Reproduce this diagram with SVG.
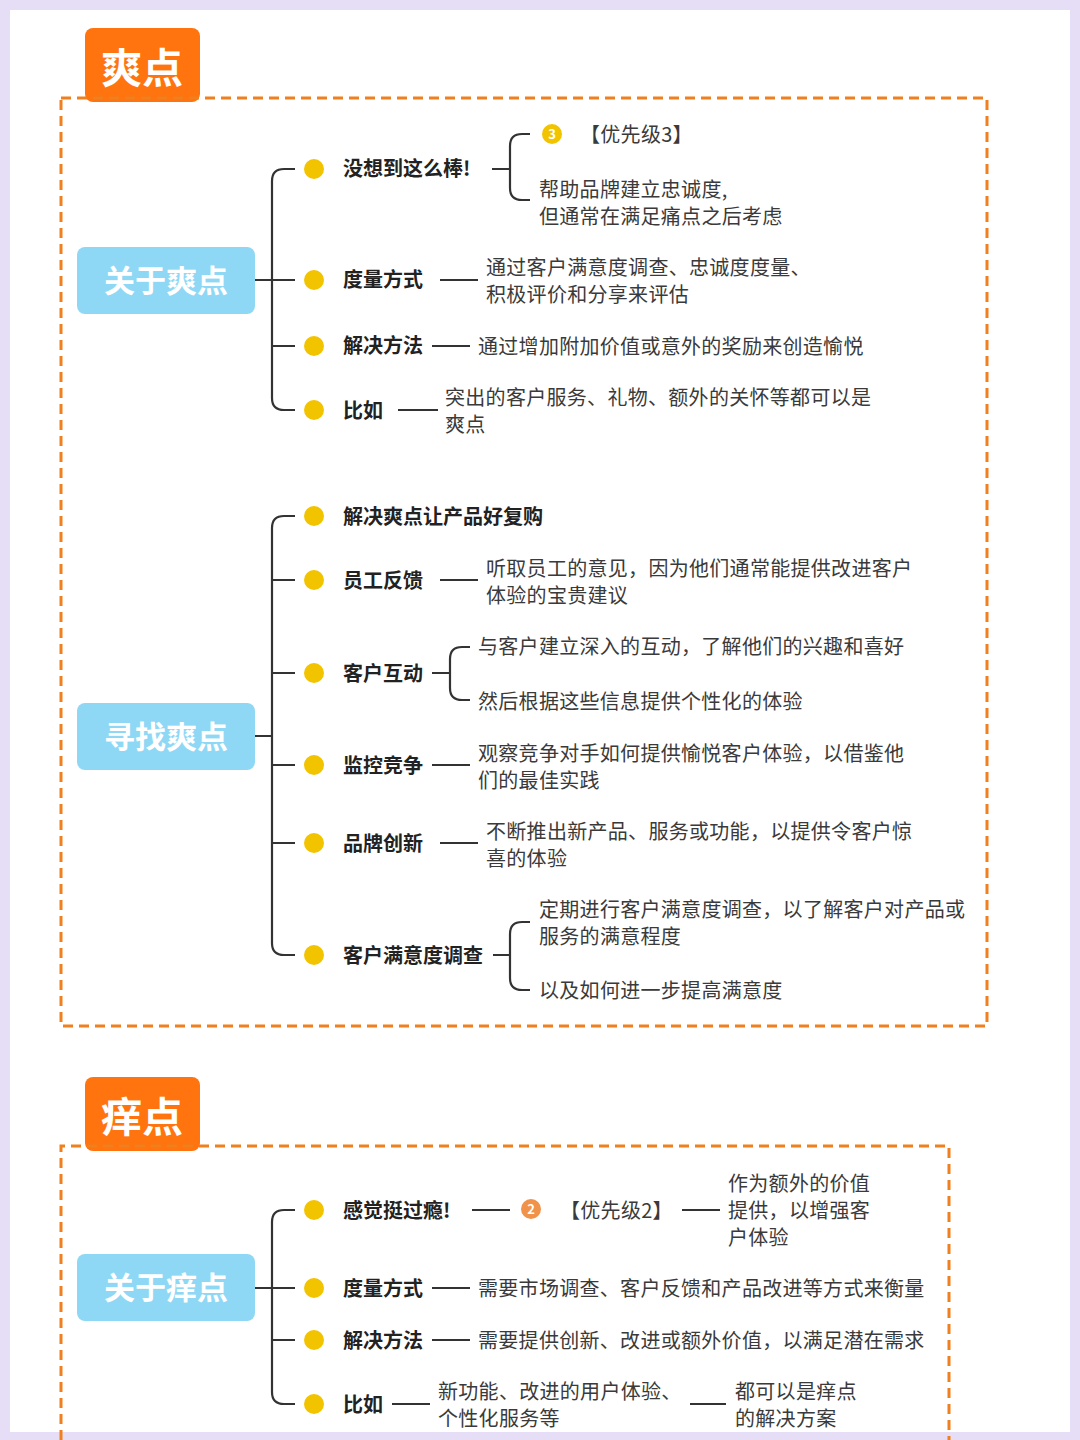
<svg xmlns="http://www.w3.org/2000/svg" width="1080" height="1440" viewBox="0 0 1080 1440">
<style>
text{font-family:"Noto Sans CJK SC","Noto Sans",sans-serif;fill:#333}
.t{font-size:20px;letter-spacing:0.3px;fill:#3a3a3a}
.b{font-size:20px;font-weight:bold;fill:#222}
.root{font-size:31px;font-weight:bold;fill:#fff}
.tab{font-size:41px;font-weight:bold;fill:#fff}
.ln{fill:none;stroke:#333;stroke-width:2.2}
.dot{fill:#f2c400}
.rb{fill:#8fd8f5}
.box{fill:none;stroke:#f07f1e;stroke-width:3;stroke-dasharray:10 6}
</style>
<rect width="1080" height="1440" fill="#e6def6"/>
<rect x="10" y="10" width="1060" height="1422" fill="#fff"/>

<g id="sec1">
<rect x="85" y="28" width="115" height="74" rx="8" fill="#ff740f"/>
<text x="142" y="83" class="tab" text-anchor="middle">爽点</text>
<rect class="box" x="61" y="98" width="926" height="928"/>
</g>
<g id="sec2">
<rect x="85" y="1077" width="115" height="74" rx="8" fill="#ff740f"/>
<text x="142" y="1132" class="tab" text-anchor="middle">痒点</text>
<path class="box" d="M61 1440 V1146 H949 V1440"/>
</g>

<g id="connectors">
<path class="ln" d="M255 280 H295 M295 169 H284 Q272 169 272 181 V398 Q272 410 284 410 H295 M272 346 H295"/>
<path class="ln" d="M492 169 H510 M530 134 H522 Q510 134 510 146 V188 Q510 200 522 200 H530"/>
<path class="ln" d="M440 280 H478 M432 346 H470 M398 410 H438"/>
<path class="ln" d="M255 736 H272 M295 516 H284 Q272 516 272 528 V943 Q272 955 284 955 H295 M272 580 H295 M272 673 H295 M272 765 H295 M272 843 H295"/>
<path class="ln" d="M440 580 H478 M432 673 H450 M470 647 H462 Q450 647 450 659 V688 Q450 700 462 700 H470 M432 765 H470 M440 843 H478"/>
<path class="ln" d="M493 955 H510 M530 922 H522 Q510 922 510 934 V978 Q510 990 522 990 H530"/>
<path class="ln" d="M255 1288 H295 M295 1210 H284 Q272 1210 272 1222 V1392 Q272 1404 284 1404 H295 M272 1340 H295"/>
<path class="ln" d="M472 1210 H510 M682 1210 H720 M432 1288 H470 M432 1340 H470 M392 1404 H430 M690 1404 H726"/>
</g>

<g id="n-root1"><rect class="rb" x="77" y="247" width="178" height="67" rx="8"/><text x="166" y="292" class="root" text-anchor="middle">关于爽点</text></g>
<g id="n-root2"><rect class="rb" x="77" y="703" width="178" height="67" rx="8"/><text x="166" y="748" class="root" text-anchor="middle">寻找爽点</text></g>
<g id="n-root3"><rect class="rb" x="77" y="1254" width="178" height="67" rx="8"/><text x="166" y="1299" class="root" text-anchor="middle">关于痒点</text></g>

<g id="n-s1">
<circle class="dot" cx="314" cy="169" r="10"/><text x="343" y="176" class="b">没想到这么棒!</text>
<circle cx="552" cy="134" r="10" fill="#f2c400"/><text x="552" y="139" font-size="13" font-weight="bold" style="fill:#fff" text-anchor="middle">3</text>
<text x="580" y="142" class="t">【优先级3】</text>
<text x="539" y="197" class="t">帮助品牌建立忠诚度,</text>
<text x="539" y="224" class="t">但通常在满足痛点之后考虑</text>
<circle class="dot" cx="314" cy="280" r="10"/><text x="343" y="287" class="b">度量方式</text>
<text x="486" y="275" class="t">通过客户满意度调查、忠诚度度量、</text>
<text x="486" y="302" class="t">积极评价和分享来评估</text>
<circle class="dot" cx="314" cy="346" r="10"/><text x="343" y="353" class="b">解决方法</text>
<text x="478" y="354" class="t">通过增加附加价值或意外的奖励来创造愉悦</text>
<circle class="dot" cx="314" cy="410" r="10"/><text x="343" y="418" class="b">比如</text>
<text x="445" y="405" class="t">突出的客户服务、礼物、额外的关怀等都可以是</text>
<text x="445" y="432" class="t">爽点</text>
</g>

<g id="n-s2">
<circle class="dot" cx="314" cy="516" r="10"/><text x="343" y="524" class="b">解决爽点让产品好复购</text>
<circle class="dot" cx="314" cy="580" r="10"/><text x="343" y="588" class="b">员工反馈</text>
<text x="486" y="576" class="t">听取员工的意见，因为他们通常能提供改进客户</text>
<text x="486" y="603" class="t">体验的宝贵建议</text>
<circle class="dot" cx="314" cy="673" r="10"/><text x="343" y="681" class="b">客户互动</text>
<text x="478" y="654" class="t">与客户建立深入的互动，了解他们的兴趣和喜好</text>
<text x="478" y="709" class="t">然后根据这些信息提供个性化的体验</text>
<circle class="dot" cx="314" cy="765" r="10"/><text x="343" y="773" class="b">监控竞争</text>
<text x="478" y="761" class="t">观察竞争对手如何提供愉悦客户体验，以借鉴他</text>
<text x="478" y="788" class="t">们的最佳实践</text>
<circle class="dot" cx="314" cy="843" r="10"/><text x="343" y="851" class="b">品牌创新</text>
<text x="486" y="839" class="t">不断推出新产品、服务或功能，以提供令客户惊</text>
<text x="486" y="866" class="t">喜的体验</text>
<circle class="dot" cx="314" cy="955" r="10"/><text x="343" y="963" class="b">客户满意度调查</text>
<text x="539" y="917" class="t">定期进行客户满意度调查，以了解客户对产品或</text>
<text x="539" y="944" class="t">服务的满意程度</text>
<text x="539" y="998" class="t">以及如何进一步提高满意度</text>
</g>

<g id="n-s3">
<circle class="dot" cx="314" cy="1210" r="10"/><text x="343" y="1218" class="b">感觉挺过瘾!</text>
<circle cx="531" cy="1209" r="10" fill="#f0924a"/><text x="531" y="1214" font-size="13" font-weight="bold" style="fill:#fff" text-anchor="middle">2</text>
<text x="560" y="1218" class="t">【优先级2】</text>
<text x="728" y="1191" class="t">作为额外的价值</text>
<text x="728" y="1218" class="t">提供，以增强客</text>
<text x="728" y="1245" class="t">户体验</text>
<circle class="dot" cx="314" cy="1288" r="10"/><text x="343" y="1296" class="b">度量方式</text>
<text x="478" y="1296" class="t">需要市场调查、客户反馈和产品改进等方式来衡量</text>
<circle class="dot" cx="314" cy="1340" r="10"/><text x="343" y="1348" class="b">解决方法</text>
<text x="478" y="1348" class="t">需要提供创新、改进或额外价值，以满足潜在需求</text>
<circle class="dot" cx="314" cy="1404" r="10"/><text x="343" y="1412" class="b">比如</text>
<text x="438" y="1399" class="t">新功能、改进的用户体验、</text>
<text x="438" y="1426" class="t">个性化服务等</text>
<text x="735" y="1399" class="t">都可以是痒点</text>
<text x="735" y="1426" class="t">的解决方案</text>
</g>
</svg>
